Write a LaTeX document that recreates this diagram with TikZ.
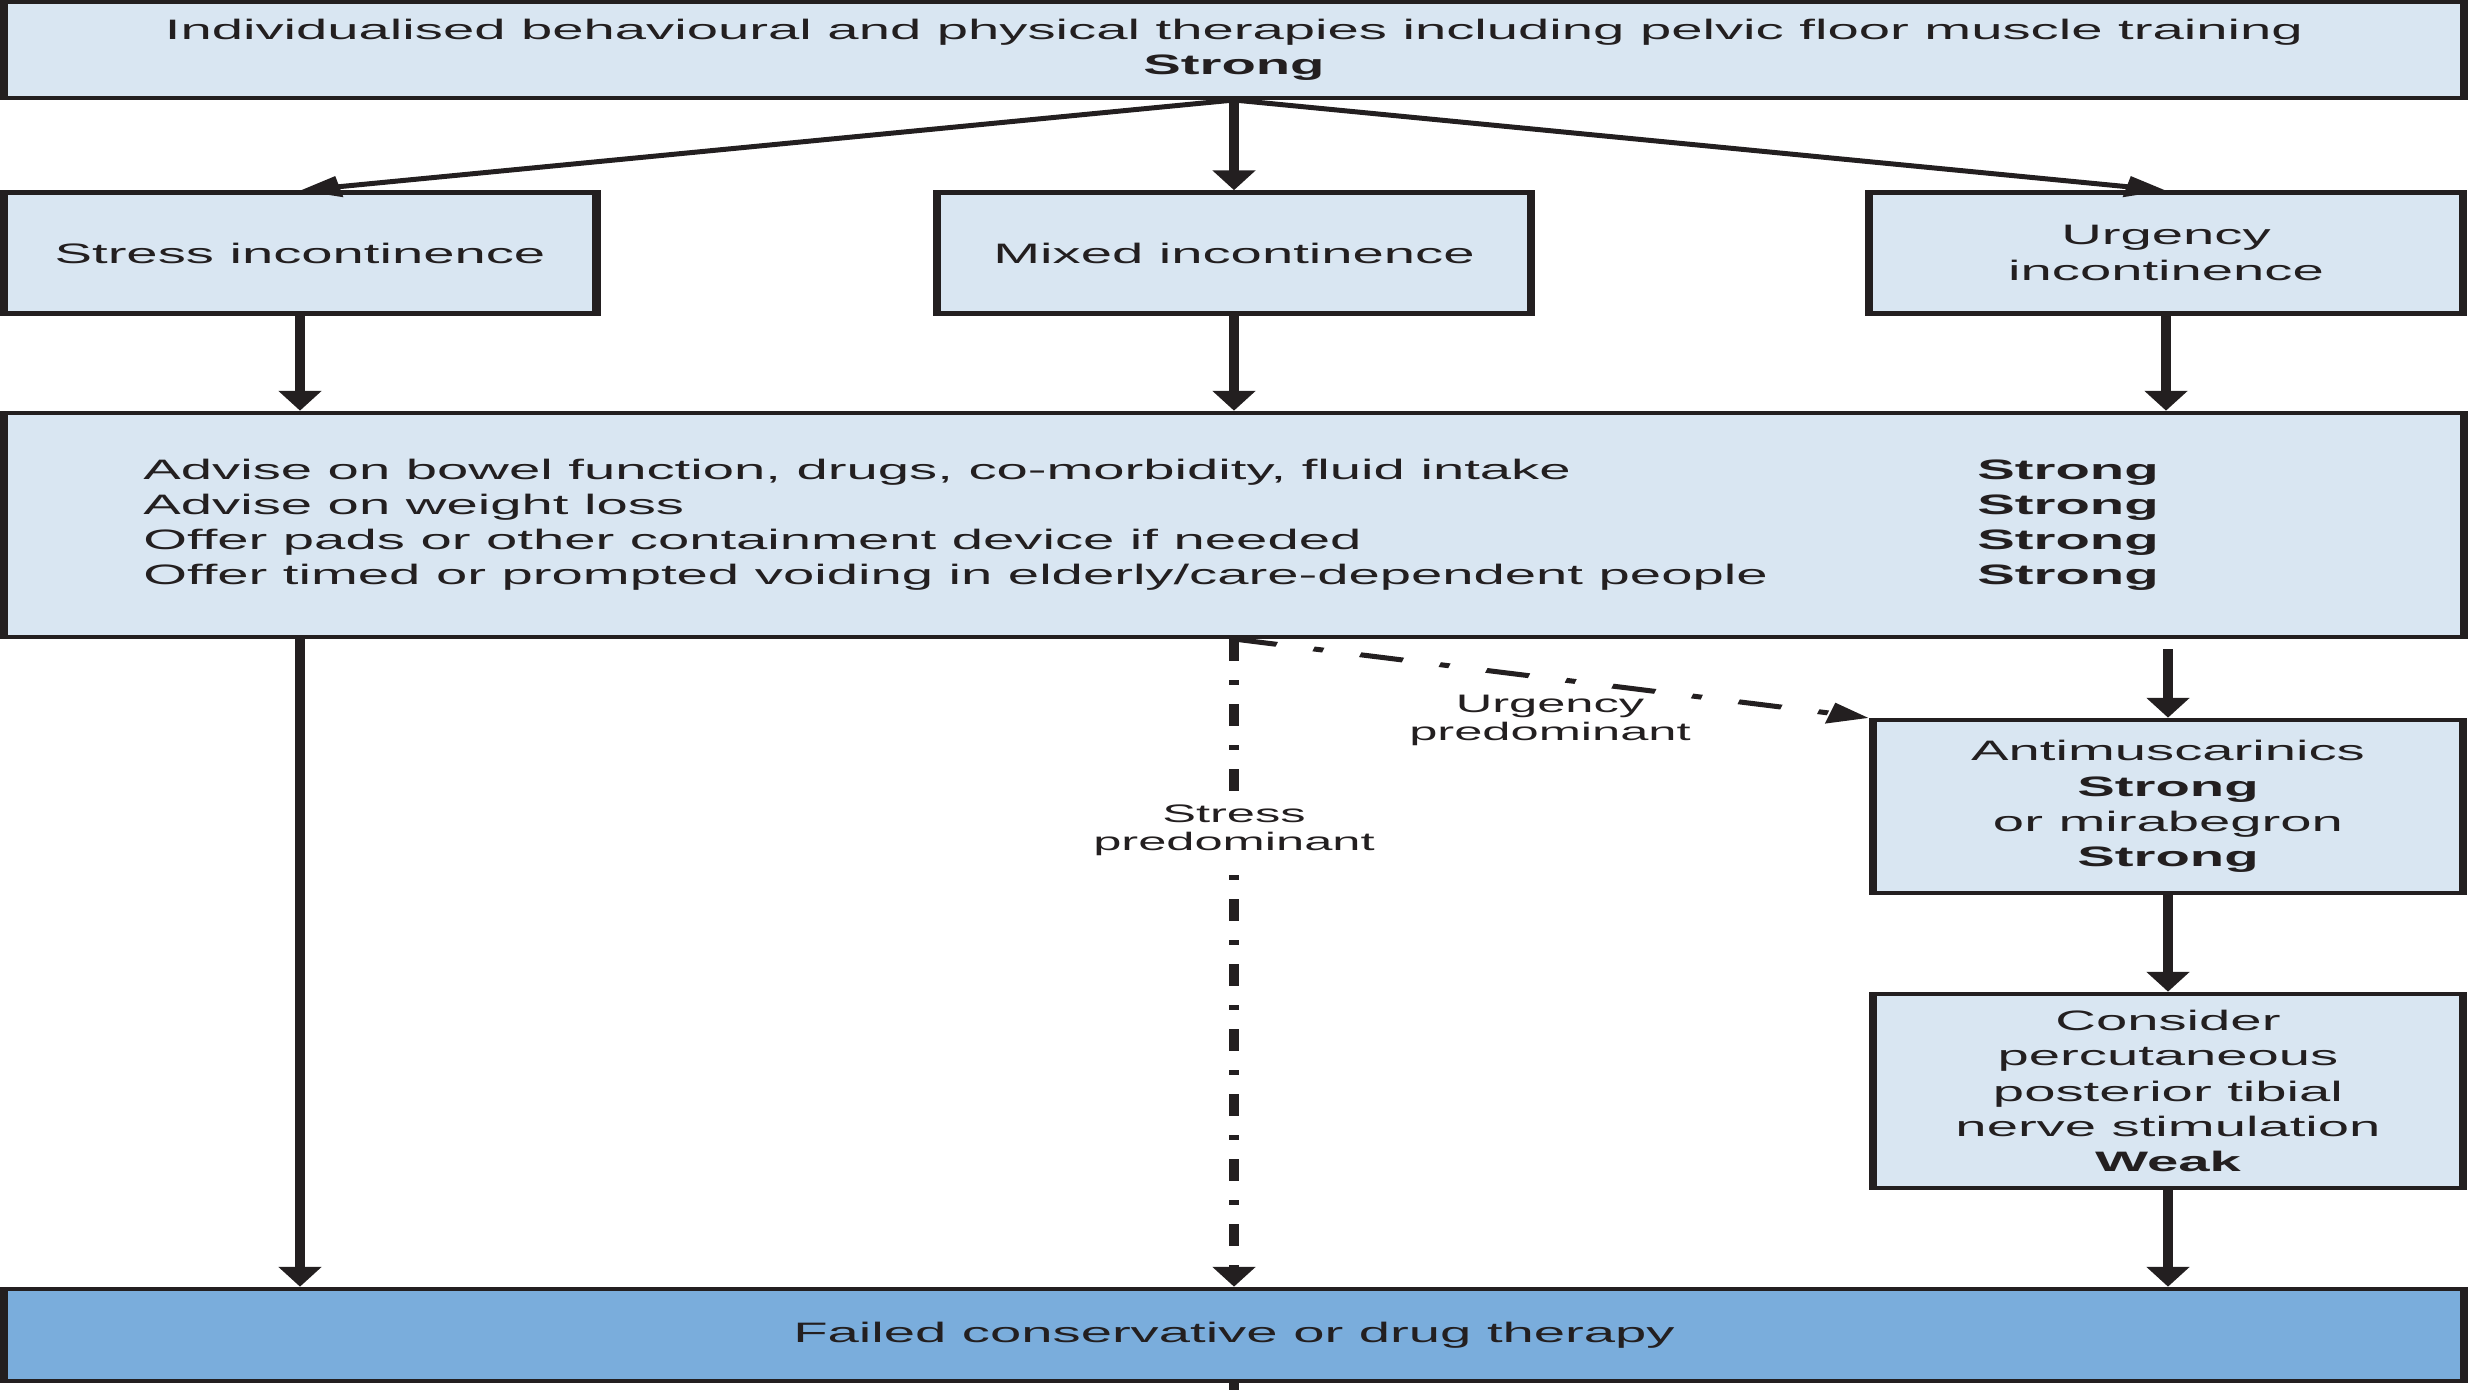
\documentclass[tikz,border=0pt]{standalone}
\usepackage{fontspec}
\setmainfont{Liberation Sans}
\usetikzlibrary{arrows.meta}
\definecolor{boxblue}{RGB}{217,230,242}
\definecolor{failblue}{RGB}{122,173,220}
\definecolor{ink}{RGB}{35,31,32}

\begin{document}
\begin{tikzpicture}[
  box/.style={draw=ink, line width=1.15pt, fill=boxblue, align=center, inner sep=0pt,
    text=ink, font=\fontsize{8}{10}\selectfont},
  boxtext/.style={inner sep=0pt, align=left, anchor=west, text=ink, font=\fontsize{8}{10}\selectfont},
  lbl/.style={inner sep=2pt, align=center, text=ink, font=\fontsize{7.2}{8}\selectfont},
  arr/.style={draw=ink, line width=1.4pt, -{Triangle[length=5.7pt,width=5.7pt]}},
  dashdot/.style={draw=ink, line width=1.5pt, dash pattern=on 0.22cm off 0.19cm on 0.05cm off 0.19cm}]
  \useasboundingbox (0,0) rectangle (24.71,13.90);
  % whole chart is stretched sideways, like the printed figure
  \begin{scope}[transform canvas={xscale=2}, x=0.5cm, y=1cm]
  \node[box, minimum width=12.30cm, minimum height=0.96cm] (top) at (12.34,13.40)
    {Individualised behavioural and physical therapies including pelvic floor muscle training\\\textbf{Strong}};
  \node[box, minimum width=2.965cm, minimum height=1.21cm] (stress) at (3.00,11.37) {Stress incontinence};
  \node[box, minimum width=2.97cm, minimum height=1.21cm] (mixed) at (12.34,11.37) {Mixed incontinence};
  \node[box, minimum width=2.97cm, minimum height=1.21cm] (urgency) at (21.66,11.37) {Urgency\\incontinence};
  \node[box, minimum width=12.30cm, minimum height=2.24cm] (advise) at (12.34,8.65) {};
  \node[boxtext] (advlines) at (1.42,8.65) {Advise on bowel function, drugs, co-morbidity, fluid intake\\
    Advise on weight loss\\Offer pads or other containment device if needed\\
    Offer timed or prompted voiding in elderly/care-dependent people};
  \node[boxtext, font=\fontsize{8}{10}\selectfont\bfseries] (advgrades) at (19.76,8.65)
    {Strong\\Strong\\Strong\\Strong};
  \node[box, minimum width=2.95cm, minimum height=1.73cm] (antimus) at (21.68,5.835)
    {Antimuscarinics\\\textbf{Strong}\\or mirabegron\\\textbf{Strong}};
  \node[box, minimum width=2.95cm, minimum height=1.94cm] (consider) at (21.68,2.99)
    {Consider\\percutaneous\\posterior tibial\\nerve stimulation\\\textbf{Weak}};
  \node[box, fill=failblue, minimum width=12.30cm, minimum height=0.92cm] (failed) at (12.34,0.55)
    {Failed conservative or drug therapy};
  \coordinate (stub) at (12.34,0);

  \draw[arr] (top.south) -- (stress.north);
  \draw[arr] (top.south) -- (mixed.north);
  \draw[arr] (top.south) -- (urgency.north);
  \draw[arr] (stress) -- (stress |- advise.north);
  \draw[arr] (mixed) -- (mixed |- advise.north);
  \draw[arr] (urgency) -- (urgency |- advise.north);
  \draw[arr] (stress |- advise.south) -- (stress |- failed.north);
  \draw[arr, shorten <=0.1cm] (antimus.north |- advise.south) -- (antimus.north);
  \draw[arr] (antimus) -- (consider);
  \draw[arr] (consider) -- (consider |- failed.north);
  \draw[dashdot, arr] (advise.south) -- (failed.north);
  \draw[dashdot, arr] (advise.south) -- (antimus.north west);
  \draw[draw=ink, line width=1.4pt] (failed.south) -- (stub);

  \node[lbl, fill=white] (strlbl) at (12.34,5.60) {Stress\\predominant};
  \node[lbl] (urglbl) at (15.50,6.70) {Urgency\\predominant};
  \end{scope}
\end{tikzpicture}
\end{document}
